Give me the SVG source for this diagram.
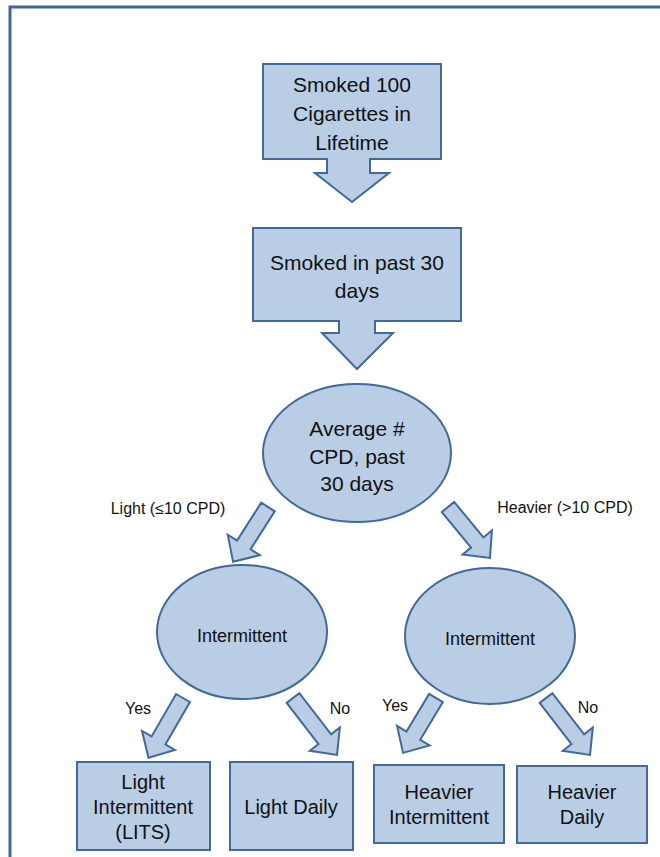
<svg xmlns="http://www.w3.org/2000/svg" width="660" height="857" viewBox="0 0 660 857">
<style>
.shape{fill:#B9CDE5;stroke:#41699B;stroke-width:2;stroke-linejoin:miter}
.t{font-family:"Liberation Sans",Arial,sans-serif;fill:#111;text-anchor:middle;dominant-baseline:central}
</style>
<rect x="0" y="0" width="660" height="857" fill="#fff"/>
<rect x="10" y="7" width="700" height="900" fill="none" stroke="#41669A" stroke-width="3"/>
<g id="n1">
<path class="shape" d="M263,64 H441 V159 H370 V173 H389 L352,202 L315,173 H327 V159 H263 Z"/>
<text class="t" font-size="21" x="352" y="84">Smoked 100</text>
<text class="t" font-size="21" x="352" y="113">Cigarettes in</text>
<text class="t" font-size="21" x="352" y="142">Lifetime</text>
</g>
<g id="n2">
<path class="shape" d="M253,228 H461 V321 H375 V333 H393 L357,369 L322,333 H339 V321 H253 Z"/>
<text class="t" font-size="21" x="357" y="262">Smoked in past 30</text>
<text class="t" font-size="21" x="357" y="290">days</text>
</g>
<g id="n3">
<ellipse class="shape" cx="357" cy="453" rx="94" ry="69"/>
<text class="t" font-size="21" x="357" y="428">Average #</text>
<text class="t" font-size="21" x="357" y="456">CPD, past</text>
<text class="t" font-size="21" x="357" y="483">30 days</text>
</g>
<g id="n4">
<ellipse class="shape" cx="242" cy="632" rx="85" ry="67"/>
<text class="t" font-size="18" x="242" y="636">Intermittent</text>
</g>
<g id="n5">
<ellipse class="shape" cx="490" cy="636" rx="85" ry="68"/>
<text class="t" font-size="18" x="490" y="639">Intermittent</text>
</g>
<g id="n6">
<rect class="shape" x="77" y="762" width="133" height="88"/>
<text class="t" font-size="20" x="143" y="782">Light</text>
<text class="t" font-size="20" x="143" y="807">Intermittent</text>
<text class="t" font-size="20" x="143" y="832">(LITS)</text>
</g>
<g id="n7">
<rect class="shape" x="230" y="762" width="123" height="88"/>
<text class="t" font-size="20" x="291" y="807">Light Daily</text>
</g>
<g id="n8">
<rect class="shape" x="374" y="765" width="130" height="78"/>
<text class="t" font-size="20" x="439" y="792">Heavier</text>
<text class="t" font-size="20" x="439" y="817">Intermittent</text>
</g>
<g id="n9">
<rect class="shape" x="517" y="766" width="130" height="77"/>
<text class="t" font-size="20" x="582" y="792">Heavier</text>
<text class="t" font-size="20" x="582" y="817">Daily</text>
</g>
<g id="connectors">
<path class="shape" transform="translate(268,507) rotate(32.5)" d="M-8,0 H8 V45 H19 L0,65 L-19,45 H-8 Z"/>
<path class="shape" transform="translate(448,507) rotate(-39.5)" d="M-8,0 H8 V46 H19 L0,66 L-19,46 H-8 Z"/>
<path class="shape" transform="translate(183,698) rotate(30)" d="M-8,0 H8 V49 H19 L0,69 L-19,49 H-8 Z"/>
<path class="shape" transform="translate(293,698) rotate(-37.7)" d="M-8,0 H8 V52 H19 L0,72 L-19,52 H-8 Z"/>
<path class="shape" transform="translate(436,698) rotate(31)" d="M-8,0 H8 V44 H19 L0,64 L-19,44 H-8 Z"/>
<path class="shape" transform="translate(546,698) rotate(-37.7)" d="M-8,0 H8 V52 H19 L0,72 L-19,52 H-8 Z"/>
<text class="t" font-size="16" x="168" y="508">Light (≤10 CPD)</text>
<text class="t" font-size="16" x="565" y="507">Heavier (&gt;10 CPD)</text>
<text class="t" font-size="16" x="138" y="708">Yes</text>
<text class="t" font-size="16" x="340" y="708">No</text>
<text class="t" font-size="16" x="395" y="705">Yes</text>
<text class="t" font-size="16" x="588" y="707">No</text>
</g>
</svg>
